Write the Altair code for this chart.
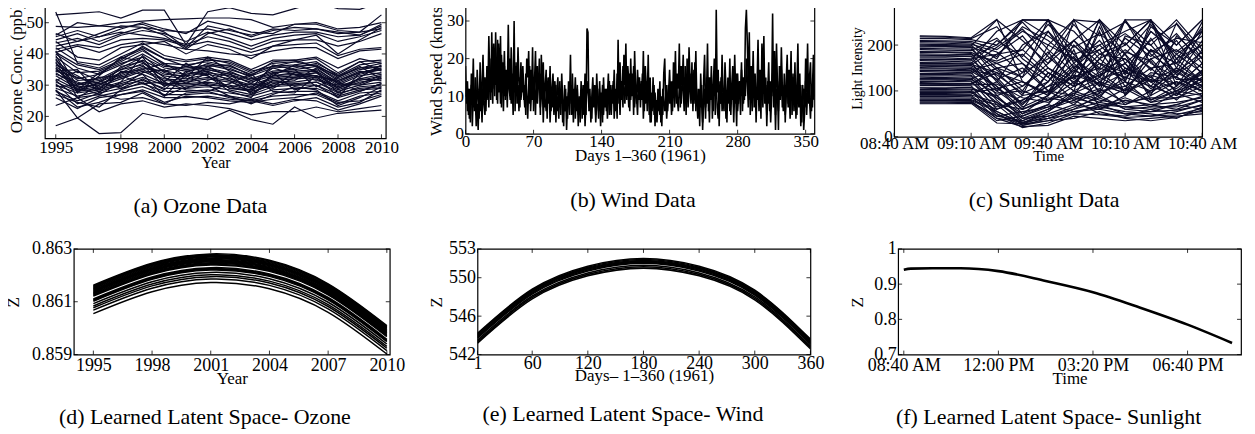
import altair as alt
import pandas as pd

FONT = "Liberation Serif"
NAVY = "#0b0b28"

# ---------------- (a) Ozone data ----------------
ozone_years = list(range(1995, 2011))
ozone_series = [
    [52.5, 53.0, 53.5, 51.5, 54.0, 54.0, 43.0, 53.5, 54.8, 53.0, 52.5, 54.5, 56.5, 54.5, 54.3, 56.5],
    [53.4, 37.0, 35.5, 39.0, 42.0, 38.5, 36.0, 38.0, 37.5, 34.5, 36.0, 37.5, 36.0, 33.0, 35.5, 36.0],
    [48.8, 48.5, 49.0, 50.0, 50.5, 51.0, 51.2, 51.5, 51.5, 51.0, 48.5, 49.5, 50.0, 48.0, 48.5, 50.0],
    [46.0, 50.0, 49.0, 48.5, 49.5, 47.0, 42.0, 49.0, 47.5, 46.0, 48.0, 47.5, 48.0, 46.5, 47.0, 52.5],
    [45.5, 47.5, 45.5, 48.0, 50.0, 48.0, 46.5, 50.5, 49.0, 47.0, 46.5, 49.5, 49.5, 47.5, 47.0, 48.0],
    [44.5, 46.5, 44.0, 46.5, 48.5, 47.5, 47.0, 48.0, 46.5, 44.5, 46.0, 47.0, 47.0, 45.5, 46.0, 49.5],
    [43.5, 45.0, 43.0, 46.0, 47.5, 46.5, 44.0, 47.0, 45.0, 42.5, 45.0, 46.0, 46.5, 44.0, 45.5, 47.5],
    [42.5, 44.0, 45.5, 47.0, 46.0, 45.0, 43.0, 45.5, 44.0, 41.5, 44.0, 44.5, 44.5, 42.5, 44.0, 46.5],
    [41.5, 43.0, 42.0, 44.5, 45.0, 44.5, 42.5, 44.0, 42.5, 40.5, 42.5, 43.0, 43.5, 39.5, 41.5, 42.0],
    [40.5, 42.5, 40.5, 43.0, 44.0, 43.0, 41.5, 41.0, 40.0, 39.5, 41.0, 42.0, 42.0, 38.5, 41.0, 41.5],
    [44.0, 39.0, 38.0, 42.0, 43.0, 44.0, 40.0, 43.0, 41.5, 38.5, 42.5, 44.5, 46.0, 40.0, 44.5, 48.5],
    [46.5, 44.0, 46.5, 49.0, 48.5, 46.0, 41.5, 46.5, 48.0, 45.5, 47.5, 48.5, 48.0, 47.0, 46.0, 49.0],
    [40.5, 36.5, 35.0, 38.0, 42.5, 38.5, 37.5, 38.5, 37.0, 34.0, 37.0, 37.5, 38.5, 34.0, 37.5, 38.0],
    [39.0, 34.0, 34.5, 37.5, 41.0, 37.0, 36.5, 37.5, 36.0, 33.5, 36.0, 36.5, 37.5, 33.0, 36.5, 37.5],
    [38.0, 32.0, 33.5, 36.5, 40.0, 36.0, 35.5, 36.5, 35.0, 33.0, 35.5, 36.0, 36.5, 32.5, 35.5, 37.0],
    [37.0, 31.5, 32.0, 35.5, 39.0, 35.5, 34.5, 35.5, 34.0, 32.0, 34.5, 35.0, 36.0, 32.0, 35.0, 36.0],
    [36.0, 30.5, 31.5, 35.0, 38.0, 34.5, 33.5, 35.0, 33.5, 31.5, 34.0, 34.5, 35.0, 31.0, 34.0, 35.5],
    [35.0, 30.0, 31.0, 34.0, 37.0, 33.5, 33.0, 34.0, 33.0, 31.0, 33.0, 34.0, 34.5, 30.5, 33.5, 35.0],
    [34.0, 29.5, 30.0, 33.5, 36.0, 33.0, 32.0, 33.5, 32.0, 30.0, 32.5, 33.0, 34.0, 30.0, 33.0, 34.0],
    [33.0, 29.0, 30.5, 32.5, 35.0, 32.0, 31.5, 32.5, 31.5, 29.5, 32.0, 32.5, 33.0, 29.5, 32.0, 33.5],
    [32.0, 28.5, 29.5, 32.0, 34.5, 31.5, 31.0, 32.0, 31.0, 29.0, 31.5, 32.0, 32.5, 29.0, 31.5, 33.0],
    [31.0, 28.0, 29.0, 31.0, 33.5, 30.5, 30.5, 31.0, 30.0, 28.5, 31.0, 31.0, 32.0, 28.5, 31.0, 32.0],
    [30.0, 27.5, 28.5, 30.5, 32.5, 30.0, 30.0, 30.5, 29.5, 28.0, 30.0, 30.5, 31.0, 28.0, 30.0, 31.0],
    [29.0, 26.5, 28.0, 30.0, 31.5, 29.0, 29.0, 29.5, 28.5, 27.0, 29.5, 30.0, 30.0, 27.0, 29.5, 30.0],
    [28.0, 25.0, 27.5, 29.0, 30.5, 28.0, 28.0, 28.5, 27.5, 26.5, 28.5, 29.0, 29.0, 26.5, 28.5, 29.0],
    [36.5, 33.0, 29.0, 33.0, 35.5, 34.5, 36.0, 35.0, 33.5, 30.5, 35.5, 33.5, 33.0, 31.5, 34.5, 33.5],
    [41.0, 29.5, 27.0, 31.0, 39.5, 34.0, 32.5, 39.0, 34.5, 31.5, 33.5, 35.5, 37.0, 33.5, 37.5, 34.5],
    [38.5, 27.5, 33.0, 39.0, 37.5, 31.0, 37.0, 33.0, 29.0, 28.0, 33.0, 36.5, 34.5, 27.5, 32.5, 36.5],
    [34.5, 35.0, 27.5, 34.5, 33.5, 26.5, 33.5, 34.5, 31.5, 27.5, 30.5, 31.5, 35.5, 30.5, 30.0, 32.5],
    [30.5, 24.0, 26.5, 28.0, 29.5, 27.0, 27.0, 27.5, 26.5, 25.5, 27.5, 28.0, 28.0, 25.0, 27.5, 28.0],
    [28.5, 23.0, 24.5, 27.0, 28.5, 26.0, 26.0, 26.5, 25.5, 25.0, 26.5, 27.0, 27.0, 24.0, 26.5, 27.5],
    [26.0, 22.5, 26.0, 27.0, 28.0, 24.5, 26.5, 26.0, 25.0, 24.5, 25.5, 26.0, 27.5, 24.5, 25.0, 27.0],
    [42.0, 37.5, 36.5, 40.0, 43.5, 39.5, 38.0, 39.0, 38.0, 35.0, 38.0, 38.0, 39.0, 35.5, 38.5, 37.0],
    [39.5, 28.0, 31.0, 35.0, 36.5, 29.5, 34.0, 37.0, 35.5, 32.5, 29.5, 34.0, 33.0, 31.0, 28.0, 30.5],
    [33.5, 31.0, 28.5, 36.0, 37.5, 32.5, 29.0, 31.5, 34.0, 27.0, 31.5, 30.0, 31.0, 27.5, 29.0, 29.5],
    [37.5, 26.0, 30.0, 34.0, 35.0, 37.0, 33.0, 30.0, 29.5, 30.5, 29.0, 32.5, 34.0, 29.0, 32.0, 31.5],
    [31.5, 34.5, 31.5, 29.0, 32.0, 28.5, 34.5, 33.0, 28.0, 26.0, 34.0, 28.5, 30.0, 26.0, 34.0, 35.5],
    [35.5, 28.5, 34.0, 37.0, 39.0, 30.0, 31.5, 36.0, 32.5, 29.0, 36.5, 35.0, 29.5, 32.5, 36.0, 32.0],
    [29.5, 30.0, 32.5, 33.0, 30.5, 31.0, 28.5, 28.0, 30.5, 33.5, 28.0, 27.5, 33.0, 26.0, 28.0, 30.5],
    [27.0, 24.5, 23.0, 28.5, 31.0, 26.5, 29.5, 30.0, 26.5, 24.0, 27.0, 29.5, 28.5, 23.5, 26.0, 29.5],
    [40.0, 35.5, 33.5, 38.5, 41.5, 36.5, 35.0, 36.0, 36.5, 33.0, 37.5, 38.0, 36.0, 31.5, 34.0, 35.0],
    [34.5, 32.5, 30.5, 29.5, 34.0, 35.0, 30.5, 34.0, 29.0, 28.5, 33.0, 33.5, 31.5, 30.0, 30.5, 33.0],
    [17.0, 19.5, 14.5, 14.8, 21.0, 19.5, 20.0, 19.0, 22.0, 19.0, 17.5, 23.0, 19.5, 21.0, 21.5, 22.0],
    [23.5, 26.0, 21.5, 24.0, 25.0, 23.0, 24.0, 23.5, 22.5, 20.5, 21.5, 21.5, 23.0, 21.5, 22.5, 23.5],
    [28.5, 19.5, 24.0, 24.5, 27.5, 24.0, 23.5, 24.5, 24.0, 25.5, 24.0, 25.5, 25.0, 22.0, 24.0, 26.5],
    [31.5, 26.0, 27.0, 25.5, 26.0, 24.0, 27.5, 28.0, 26.0, 25.0, 23.5, 25.0, 26.0, 23.0, 24.5, 28.5],
]
ozone_xticks = [1995, 1998, 2000, 2002, 2004, 2006, 2008, 2010]
ozone_yticks = [20, 30, 40, 50]

# ---------------- (b) Wind data ----------------
wind_a = [
    18, 8, 14, 5, 12, 3, 16, 9, 20, 6, 11, 2, 17, 10, 4, 19, 7, 13, 21, 9, 15, 6, 18, 11, 26, 14, 9, 27, 12, 24,
    10, 27, 15, 8, 24, 12, 26, 7, 19, 13, 22, 9, 17, 11, 29, 12, 20, 8, 16, 10, 30, 6, 18, 10, 23, 14, 7, 19, 11, 16,
    9, 13, 5, 20, 15, 22, 8, 17, 10, 23, 6, 14, 22, 9, 18, 12, 16, 5, 21, 11, 19, 7, 13, 17, 4, 15, 9, 18, 6, 12,
    16, 8, 14, 3, 11, 15, 7, 12, 5, 16, 9, 2, 13, 6, 10, 4, 14, 8, 21, 5, 11, 3, 9, 15, 6, 12, 2, 10, 7, 14,
    4, 13, 8, 16, 5, 28, 27, 6, 12, 3, 10, 15, 7, 13, 5, 16, 9, 4, 14, 7, 11, 3, 15, 8, 12, 6, 10, 16, 5, 13,
    5, 13, 9, 17, 6, 12, 4, 25, 8, 19, 11, 14, 7, 21, 13, 24, 9, 18, 14, 6, 20, 10, 16, 5, 22, 12, 8, 17, 11, 15,
    7, 14, 10, 22, 6, 18, 12, 9, 21, 5, 15, 3, 11, 7, 13, 2, 9, 4, 12, 6, 14, 3, 10, 5, 16, 20, 8, 13, 6, 11,
    17, 9, 14, 6, 19, 11, 22, 8, 16, 12, 24, 7, 18, 13, 21, 9, 15, 5, 20, 10, 23, 14, 8, 19, 6, 17, 11, 22, 9, 4,
    12, 2, 16, 8, 3, 14, 21, 7, 10, 24, 6, 15, 9, 18, 4, 13, 20, 5, 33, 11, 17, 2, 14, 8, 21, 10, 6, 19, 12, 3,
    15, 9, 20, 5, 13, 18, 7, 21, 11, 2, 16, 8, 14, 10, 19, 6, 15, 9, 28, 33, 24, 12, 27, 5, 18, 11, 22, 7, 16, 3,
    13, 25, 9, 17, 4, 24, 12, 26, 8, 15, 2, 11, 19, 6, 14, 10, 32, 7, 22, 5, 24, 13, 1, 18, 9, 23, 12, 6, 16, 3,
    14, 21, 8, 17, 11, 22, 5, 15, 10, 19, 4, 12, 24, 7, 16, 2, 9, 13, 1, 6, 20, 11, 24, 8, 15, 19, 6, 12, 21, 10,
]
wind_b = [
    10, 14, 6, 12, 4, 9, 13, 2, 11, 7, 15, 5, 8, 1, 12, 6, 10, 3, 14, 8, 5, 12, 9, 16, 7, 20, 11, 17, 8, 22,
    13, 19, 9, 25, 11, 17, 8, 21, 14, 6, 18, 10, 15, 7, 20, 12, 9, 23, 14, 5, 16, 11, 19, 8, 13, 6, 15, 9, 12, 18,
    11, 7, 16, 10, 4, 13, 18, 6, 12, 9, 15, 11, 5, 17, 8, 13, 20, 7, 10, 14, 3, 12, 9, 6, 11, 8, 14, 3, 10, 7,
    12, 5, 9, 13, 6, 10, 4, 14, 8, 11, 3, 9, 6, 12, 1, 8, 11, 5, 13, 9, 16, 7, 12, 4, 10, 13, 5, 9, 3, 11,
    8, 5, 12, 2, 9, 14, 11, 7, 10, 6, 4, 13, 8, 11, 3, 9, 12, 6, 10, 2, 8, 13, 5, 10, 7, 12, 4, 9, 14, 7,
    11, 8, 14, 4, 10, 7, 16, 11, 13, 5, 14, 9, 18, 12, 8, 15, 10, 13, 7, 16, 9, 14, 11, 18, 7, 13, 10, 5, 14, 9,
    12, 9, 16, 4, 11, 8, 14, 6, 10, 12, 3, 9, 6, 15, 5, 11, 7, 3, 8, 11, 5, 9, 2, 12, 8, 6, 11, 4, 9, 13,
    8, 12, 5, 10, 14, 7, 11, 15, 9, 6, 13, 10, 8, 16, 12, 6, 18, 10, 13, 7, 11, 16, 9, 12, 14, 8, 19, 6, 12, 7,
    5, 10, 7, 13, 1, 9, 12, 4, 15, 8, 11, 3, 14, 9, 12, 6, 16, 10, 13, 7, 4, 12, 8, 15, 6, 11, 9, 14, 4, 10,
    8, 13, 6, 11, 9, 14, 3, 12, 8, 16, 6, 10, 13, 5, 17, 11, 8, 13, 10, 20, 14, 7, 16, 9, 12, 6, 14, 10, 8, 12,
    9, 15, 6, 12, 10, 16, 7, 19, 11, 13, 5, 14, 8, 12, 3, 10, 16, 11, 14, 1, 12, 9, 6, 14, 10, 17, 7, 11, 13, 5,
    10, 15, 7, 12, 4, 13, 10, 16, 6, 12, 9, 5, 15, 11, 8, 13, 3, 10, 12, 7, 14, 5, 11, 16, 9, 4, 13, 7, 16, 9,
]
wind_xticks = [0, 70, 140, 210, 280, 350]
wind_yticks = [0, 10, 20, 30]

# ---------------- (c) Sunlight data (minutes after midnight) ----------------
sun_times = [530, 540, 550, 560, 570, 580, 590, 600, 610, 620, 630, 640]
sun_series = [
    [220, 219, 216, 256, 120, 90, 255, 130, 100, 252, 170, 200],
    [214, 214, 212, 200, 255, 255, 180, 110, 255, 255, 150, 120],
    [208, 207, 205, 170, 255, 254, 130, 255, 180, 120, 248, 180],
    [202, 201, 200, 150, 100, 180, 255, 250, 120, 240, 200, 255],
    [196, 196, 195, 130, 70, 120, 200, 150, 254, 160, 130, 210],
    [190, 189, 188, 215, 160, 100, 90, 170, 200, 255, 110, 160],
    [184, 184, 182, 120, 200, 230, 150, 200, 150, 130, 180, 140],
    [178, 177, 176, 100, 60, 80, 120, 90, 130, 110, 90, 130],
    [172, 172, 170, 180, 220, 150, 110, 230, 90, 190, 160, 120],
    [166, 165, 163, 90, 40, 60, 100, 80, 70, 100, 120, 100],
    [160, 160, 158, 140, 90, 200, 170, 120, 160, 90, 220, 170],
    [154, 153, 152, 110, 50, 70, 140, 190, 110, 150, 100, 90],
    [148, 148, 146, 160, 180, 130, 80, 100, 220, 200, 140, 110],
    [142, 141, 140, 80, 30, 50, 70, 60, 80, 70, 60, 80],
    [136, 136, 134, 100, 140, 170, 210, 140, 100, 170, 190, 150],
    [130, 129, 128, 70, 25, 40, 60, 90, 60, 55, 70, 60],
    [124, 124, 122, 60, 80, 110, 160, 110, 140, 120, 80, 130],
    [118, 117, 116, 140, 120, 90, 190, 60, 90, 140, 130, 100],
    [112, 112, 111, 50, 20, 30, 50, 70, 50, 45, 55, 70],
    [106, 105, 104, 90, 110, 150, 120, 160, 120, 100, 150, 110],
    [100, 100, 99, 45, 35, 60, 80, 50, 45, 60, 50, 55],
    [94, 94, 93, 120, 70, 140, 100, 130, 180, 80, 100, 140],
    [88, 88, 87, 40, 22, 25, 45, 40, 35, 40, 45, 50],
    [82, 82, 81, 60, 90, 100, 70, 120, 70, 90, 120, 90],
    [76, 76, 76, 35, 45, 70, 55, 65, 55, 50, 40, 65],
    [72, 72, 73, 30, 28, 35, 40, 55, 40, 35, 42, 58],
    [210, 209, 208, 190, 230, 200, 255, 220, 250, 200, 255, 190],
    [200, 199, 198, 255, 210, 160, 210, 255, 200, 254, 160, 240],
    [186, 185, 184, 160, 130, 255, 230, 170, 255, 180, 140, 230],
    [176, 176, 175, 200, 250, 190, 140, 255, 160, 210, 246, 170],
    [156, 156, 155, 125, 150, 100, 130, 150, 130, 170, 110, 190],
    [144, 144, 143, 110, 60, 140, 110, 140, 170, 110, 170, 120],
    [126, 126, 125, 95, 100, 80, 95, 120, 100, 130, 90, 145],
    [108, 108, 107, 85, 50, 90, 150, 100, 110, 80, 110, 160],
    [92, 92, 91, 75, 40, 45, 60, 75, 65, 70, 75, 85],
    [80, 80, 79, 55, 30, 55, 90, 65, 85, 65, 95, 75],
    [168, 168, 167, 230, 255, 220, 180, 200, 230, 255, 200, 255],
    [138, 138, 137, 180, 190, 255, 160, 210, 140, 230, 180, 220],
    [116, 116, 115, 150, 160, 120, 200, 145, 190, 150, 160, 200],
    [98, 98, 97, 65, 80, 110, 130, 85, 150, 120, 130, 100],
    [218, 217, 214, 240, 170, 130, 210, 160, 140, 230, 185, 230],
    [205, 204, 202, 185, 140, 230, 170, 130, 215, 175, 225, 160],
    [193, 192, 191, 145, 110, 160, 245, 180, 170, 120, 150, 250],
    [181, 180, 179, 165, 190, 140, 100, 240, 135, 215, 135, 175],
    [169, 169, 168, 125, 65, 90, 135, 115, 95, 125, 105, 145],
    [157, 157, 156, 195, 235, 175, 125, 180, 205, 145, 210, 135],
    [151, 150, 149, 105, 75, 100, 155, 125, 145, 95, 140, 185],
    [145, 145, 144, 135, 95, 120, 175, 95, 185, 165, 95, 115],
    [133, 133, 132, 85, 45, 65, 85, 105, 75, 85, 85, 95],
    [127, 127, 126, 150, 130, 185, 115, 170, 125, 190, 125, 125],
    [121, 121, 120, 75, 35, 55, 95, 75, 105, 75, 100, 120],
    [115, 114, 113, 115, 85, 75, 110, 135, 160, 105, 145, 105],
    [103, 103, 102, 55, 28, 45, 65, 85, 60, 65, 65, 80],
    [97, 97, 96, 105, 120, 95, 145, 115, 95, 135, 115, 135],
    [91, 91, 90, 50, 25, 35, 55, 60, 50, 55, 58, 68],
    [85, 85, 84, 70, 60, 85, 75, 95, 120, 75, 85, 110],
    [79, 79, 78, 40, 32, 40, 50, 48, 42, 45, 48, 62],
    [74, 74, 75, 45, 55, 65, 85, 70, 65, 60, 70, 88],
    [198, 197, 196, 175, 240, 210, 165, 190, 225, 185, 215, 205],
    [162, 161, 160, 210, 175, 245, 195, 225, 180, 245, 170, 235],
]
sun_xticks = [520, 550, 580, 610, 640]
sun_xlabels = ["08:40 AM", "09:10 AM", "09:40 AM", "10:10 AM", "10:40 AM"]
sun_yticks = [0, 100, 200, 300]

# ---------------- (d) Learned latent space - ozone ----------------
lat_oz_years = [1995, 1998, 2001, 2004, 2007, 2010]
lat_oz_curves = [
    [0.86163, 0.86246, 0.86281, 0.86257, 0.86168, 0.86010],
    [0.86160, 0.86243, 0.86278, 0.86254, 0.86165, 0.86007],
    [0.86157, 0.86240, 0.86275, 0.86251, 0.86162, 0.86004],
    [0.86154, 0.86237, 0.86272, 0.86248, 0.86159, 0.86001],
    [0.86151, 0.86234, 0.86269, 0.86245, 0.86156, 0.85998],
    [0.86148, 0.86231, 0.86266, 0.86242, 0.86153, 0.85995],
    [0.86145, 0.86228, 0.86263, 0.86239, 0.86150, 0.85992],
    [0.86142, 0.86225, 0.86260, 0.86236, 0.86147, 0.85989],
    [0.86139, 0.86222, 0.86257, 0.86233, 0.86144, 0.85986],
    [0.86136, 0.86219, 0.86254, 0.86230, 0.86141, 0.85983],
    [0.86133, 0.86216, 0.86251, 0.86227, 0.86138, 0.85980],
    [0.86130, 0.86213, 0.86248, 0.86224, 0.86135, 0.85977],
    [0.86127, 0.86210, 0.86245, 0.86221, 0.86132, 0.85974],
    [0.86124, 0.86207, 0.86242, 0.86218, 0.86129, 0.85971],
    [0.86121, 0.86204, 0.86239, 0.86215, 0.86126, 0.85968],
    [0.86111, 0.86194, 0.86229, 0.86205, 0.86116, 0.85958],
    [0.86108, 0.86191, 0.86226, 0.86202, 0.86113, 0.85955],
    [0.86105, 0.86188, 0.86223, 0.86199, 0.86110, 0.85952],
    [0.86102, 0.86185, 0.86220, 0.86196, 0.86107, 0.85949],
    [0.86093, 0.86176, 0.86211, 0.86187, 0.86098, 0.85940],
    [0.86084, 0.86167, 0.86202, 0.86178, 0.86089, 0.85931],
    [0.86077, 0.86160, 0.86195, 0.86171, 0.86082, 0.85924],
    [0.86068, 0.86151, 0.86186, 0.86162, 0.86073, 0.85915],
    [0.86055, 0.86138, 0.86173, 0.86149, 0.86060, 0.85902],
]
lat_oz_xticks = [1995, 1998, 2001, 2004, 2007, 2010]
lat_oz_yticks = [0.859, 0.861, 0.863]

# ---------------- (e) Learned latent space - wind ----------------
lat_wind_days = [1, 60, 120, 180, 240, 300, 360]
lat_wind_curves = [
    [544.2, 548.8, 551.2, 552.0, 551.2, 548.7, 543.6],
    [544.1, 548.7, 551.1, 551.9, 551.1, 548.6, 543.5],
    [544.0, 548.6, 551.0, 551.8, 551.0, 548.5, 543.4],
    [543.9, 548.5, 550.9, 551.7, 550.9, 548.4, 543.3],
    [543.8, 548.4, 550.8, 551.6, 550.8, 548.3, 543.2],
    [543.7, 548.3, 550.7, 551.5, 550.7, 548.2, 543.1],
    [543.5, 548.1, 550.5, 551.3, 550.5, 548.0, 542.9],
    [543.35, 547.95, 550.35, 551.15, 550.35, 547.85, 542.75],
    [543.2, 547.8, 550.2, 551.0, 550.2, 547.7, 542.6],
]
lat_wind_xticks = [1, 60, 120, 180, 240, 300, 360]
lat_wind_yticks = [542, 546, 550, 553]

# ---------------- (f) Learned latent space - sunlight ----------------
lat_sun_times = [520, 535, 580, 640, 720, 820, 920, 1020, 1120, 1214]
lat_sun_values = [0.941, 0.944, 0.945, 0.945, 0.937, 0.909, 0.877, 0.833, 0.785, 0.733]
lat_sun_xticks = [520, 720, 920, 1120]
lat_sun_xlabels = ["08:40 AM", "12:00 PM", "03:20 PM", "06:40 PM"]
lat_sun_yticks = [0.7, 0.8, 0.9, 1.0]


def long_df(xs, series_list):
    rows = []
    for i, s in enumerate(series_list):
        for x, v in zip(xs, s):
            rows.append({"x": x, "y": v, "s": i})
    return pd.DataFrame(rows)


def label_expr(vals, labels):
    return "".join(f"datum.value == {v} ? '{l}' : " for v, l in zip(vals, labels)) + "''"


def panel(df, W, H, xdom, ydom, xticks, yticks, xtitle, ytitle, caption, cap_dx,
          color, sw, xkw, ykw, cap_offset, interp=None):
    xs = alt.Scale(domain=xdom, nice=False, zero=False)
    ys = alt.Scale(domain=ydom, nice=False, zero=False)
    xax = alt.Axis(values=xticks, title=xtitle, **xkw)
    yax = alt.Axis(values=yticks, title=ytitle, **ykw)
    mk = dict(color=color, strokeWidth=sw, clip=True)
    if interp:
        mk["interpolate"] = interp
    lines = alt.Chart(df).mark_line(**mk).encode(
        x=alt.X("x:Q", scale=xs, axis=xax),
        y=alt.Y("y:Q", scale=ys, axis=yax),
        detail="s:N",
    )
    tx = pd.DataFrame({"x": xticks})
    ty = pd.DataFrame({"y": yticks})
    L = 4
    st = dict(color="black", strokeWidth=0.8)
    t1 = alt.Chart(tx).mark_rule(**st).encode(
        x=alt.X("x:Q", scale=xs, axis=xax), y=alt.value(H), y2=alt.value(H - L))
    t2 = alt.Chart(tx).mark_rule(**st).encode(
        x=alt.X("x:Q", scale=xs, axis=xax), y=alt.value(0), y2=alt.value(L))
    t3 = alt.Chart(ty).mark_rule(**st).encode(
        y=alt.Y("y:Q", scale=ys, axis=yax), x=alt.value(0), x2=alt.value(L))
    t4 = alt.Chart(ty).mark_rule(**st).encode(
        y=alt.Y("y:Q", scale=ys, axis=yax), x=alt.value(W), x2=alt.value(W - L))
    return alt.layer(lines, t1, t2, t3, t4).properties(
        width=W, height=H,
        title=alt.TitleParams(
            text=caption, orient="bottom", anchor="middle", frame="group",
            font=FONT, fontSize=22, fontWeight="normal", color="black",
            offset=cap_offset, dx=cap_dx,
        ),
    )


def spacer(w):
    # invisible layout spacer (lets the two rows start at different x positions)
    sc = alt.Scale(domain=[-1, 1])
    return alt.Chart(pd.DataFrame({"v": [0]})).mark_point(opacity=0, size=1).encode(
        x=alt.X("v:Q", axis=None, scale=sc), y=alt.Y("v:Q", axis=None, scale=sc)
    ).properties(width=w, height=10, view=alt.ViewBackground(strokeOpacity=0))


def axkw(size, lp, tsize, tp, **kw):
    return dict(labelFontSize=size, labelPadding=lp, titleFontSize=tsize, titlePadding=tp,
                labelFont=FONT, titleFont=FONT, **kw)


pa = panel(long_df(ozone_years, ozone_series), 342, 141, [1994.5, 2010.2], [13, 58],
           ozone_xticks, ozone_yticks, "Year", "Ozone Conc. (ppb)", "(a) Ozone Data", -15,
           NAVY, 1.2, axkw(17, 1, 16, -1, format="d"), axkw(17, 2, 17, 0), 26)

pb = panel(long_df(list(range(len(wind_a))), [wind_a, wind_b]), 350, 132, [0, 359], [0, 35],
           wind_xticks, wind_yticks, "Days 1\u2013360 (1961)", "Wind Speed (knots)", "(b) Wind Data", -7,
           "black", 1.6, axkw(17, 0, 17, -2, format="d"), axkw(17, 2, 17, 1), 26)

pc = panel(long_df(sun_times, sun_series), 309, 138, [520, 640], [0, 300],
           sun_xticks, sun_yticks, "Time", "Light Intensity", "(c) Sunlight Data", -4,
           NAVY, 1.2, axkw(17, -1, 15, -3, labelExpr=label_expr(sun_xticks, sun_xlabels)),
           axkw(17, 2, 14, 2), 26)

pd_ = panel(long_df(lat_oz_years, lat_oz_curves), 317, 106, [1994.0, 2010.15], [0.859, 0.863],
            lat_oz_xticks, lat_oz_yticks, "Year", "Z", "(d) Learned Latent Space- Ozone", -27,
            "black", 1.5, axkw(18, 2, 17, -4, format="d"), axkw(18, 2, 17, 8.5, format=".3f"), 21,
            interp="natural")

pe = panel(long_df(lat_wind_days, lat_wind_curves), 334, 106, [1, 360], [542, 553],
           lat_wind_xticks, lat_wind_yticks, "Days\u2013 1\u2013360 (1961)", "Z", "(e) Learned Latent Space- Wind", -21,
           "black", 1.6, axkw(18, 0, 17, -5, format="d"), axkw(18, 2, 17, 3, format="d"), 21,
           interp="natural")

pf = panel(long_df(lat_sun_times, [lat_sun_values]), 344, 106, [508, 1233], [0.7, 1.0],
           lat_sun_xticks, lat_sun_yticks, "Time", "Z", "(f) Learned Latent Space- Sunlight", -21,
           "black", 2.6, axkw(18, 2, 17, -4, labelExpr=label_expr(lat_sun_xticks, lat_sun_xlabels)),
           axkw(18, 2, 17, 7, format="~g"), 21, interp="monotone")

row1 = alt.hconcat(spacer(1), pa, pb, pc, spacing=80, bounds="flush", center=True)
row2 = alt.hconcat(spacer(22), pd_, pe, pf, spacing=88, bounds="flush", center=True)

chart = alt.concat(row1, row2, columns=1, align="none", spacing=21).properties(
    padding={"left": -44, "top": -20, "right": 5, "bottom": 5},
    background="white",
).configure(
    font=FONT
).configure_view(
    stroke="black", strokeWidth=1.2
).configure_axis(
    domain=False, ticks=False, grid=False,
    labelFont=FONT, titleFont=FONT, labelColor="black", titleColor="black",
    titleFontWeight="normal", labelFlush=False, labelOverlap=False,
).configure_title(font=FONT, fontWeight="normal")

chart.save("out.html", embed_options={"renderer": "svg", "actions": False})
